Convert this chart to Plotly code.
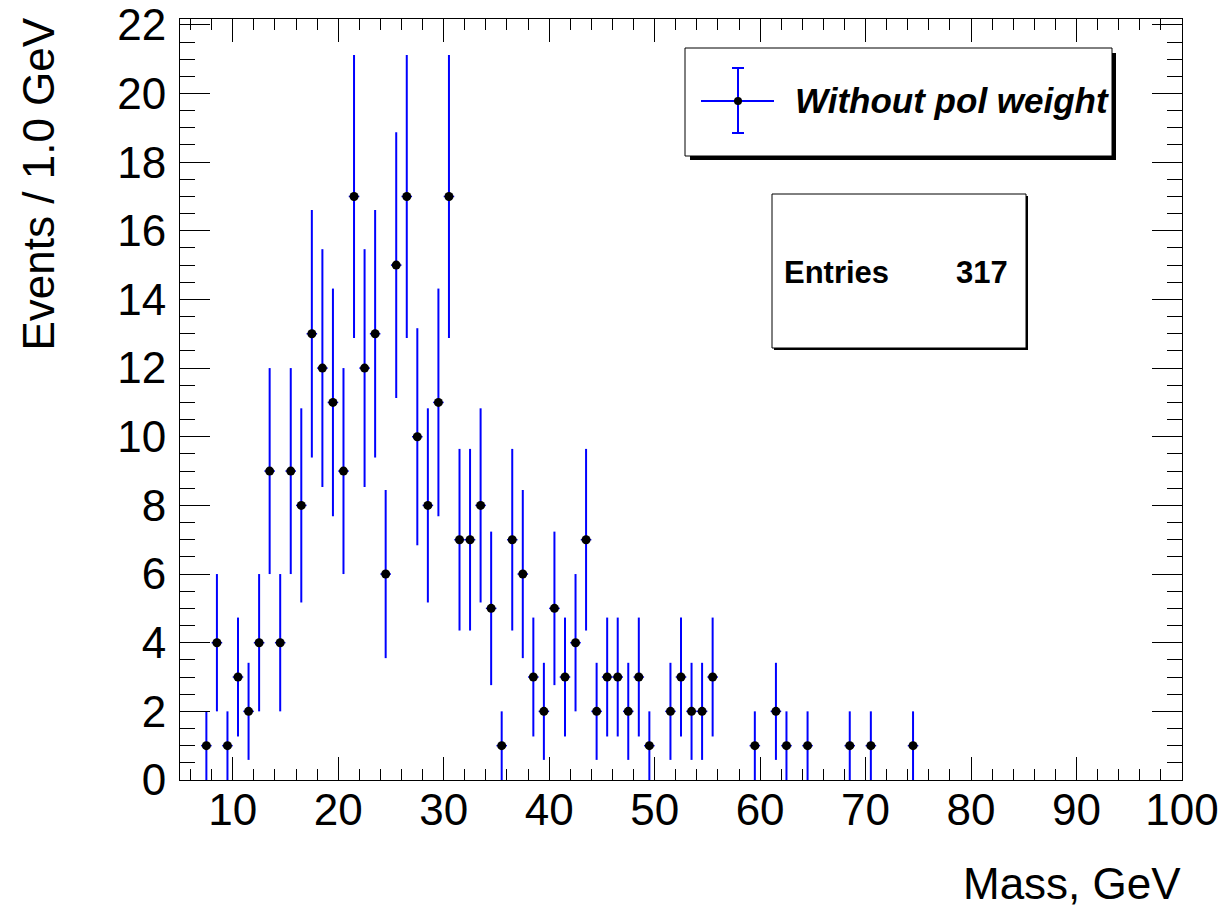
import numpy as np
import plotly.graph_objects as go

# ---- data (bin centres in GeV, counts per 1 GeV bin; empty bins omitted) ----
bin_centers = [7.5, 8.5, 9.5, 10.5, 11.5, 12.5, 13.5, 14.5, 15.5, 16.5,
               17.5, 18.5, 19.5, 20.5, 21.5, 22.5, 23.5, 24.5, 25.5, 26.5,
               27.5, 28.5, 29.5, 30.5, 31.5, 32.5, 33.5, 34.5, 35.5, 36.5,
               37.5, 38.5, 39.5, 40.5, 41.5, 42.5, 43.5, 44.5, 45.5, 46.5,
               47.5, 48.5, 49.5, 51.5, 52.5, 53.5, 54.5, 55.5, 59.5, 61.5,
               62.5, 64.5, 68.5, 70.5, 74.5]
counts = [1, 4, 1, 3, 2, 4, 9, 4, 9, 8,
          13, 12, 11, 9, 17, 12, 13, 6, 15, 17,
          10, 8, 11, 17, 7, 7, 8, 5, 1, 7,
          6, 3, 2, 5, 3, 4, 7, 2, 3, 3,
          2, 3, 1, 2, 3, 2, 2, 3, 1, 2,
          1, 1, 1, 1, 1]
bin_half_width = 0.5
entries = 317
legend_label = "Without pol weight"
x_title = "Mass, GeV"
y_title = "Events / 1.0 GeV"

errors = np.sqrt(np.array(counts, dtype=float))

W, H = 1226, 908
L, R, T, B = 180, 44, 19, 128
pw, ph = W - L - R, H - T - B


def px(x):
    return (x - L) / pw


def py(y):
    return (H - B - y) / ph


fig = go.Figure()
fig.add_trace(go.Scatter(
    x=bin_centers, y=counts, mode="markers",
    marker=dict(color="black", size=9, symbol="circle"),
    error_y=dict(type="data", array=errors, color="#0000ff", thickness=2, width=0),
    error_x=dict(type="constant", value=bin_half_width, color="#0000ff", thickness=1.5, width=0),
    showlegend=False, cliponaxis=True,
))

font = "Liberation Sans, Arial, Helvetica, sans-serif"

axis_common = dict(
    showline=True, linecolor="black", linewidth=1, mirror="allticks",
    ticks="inside", tickcolor="black", tickwidth=1,
    showgrid=False, zeroline=False, automargin=False,
    tickfont=dict(family=font, size=44, color="black"),
)

fig.update_xaxes(range=[5, 100], tick0=0, dtick=10, ticklen=23,
                 minor=dict(dtick=2, tick0=0, ticklen=11, ticks="inside",
                            tickcolor="black", showgrid=False),
                 ticklabelstandoff=-9, **axis_common)
fig.update_yaxes(range=[0, 22.17], tick0=0, dtick=2, ticklen=30,
                 minor=dict(dtick=0.5, tick0=0, ticklen=15, ticks="inside",
                            tickcolor="black", showgrid=False),
                 ticklabelstandoff=4, **axis_common)

shapes = []
# legend box with shadow
shapes.append(dict(type="rect", xref="paper", yref="paper",
                   x0=px(690), x1=px(1116), y0=py(160), y1=py(53),
                   fillcolor="black", line=dict(width=0), layer="above"))
shapes.append(dict(type="rect", xref="paper", yref="paper",
                   x0=px(685), x1=px(1112), y0=py(156), y1=py(48),
                   fillcolor="white", line=dict(color="black", width=1), layer="above"))
# legend symbol
shapes.append(dict(type="line", xref="paper", yref="paper",
                   x0=px(701), x1=px(774), y0=py(101), y1=py(101),
                   line=dict(color="#0000ff", width=2), layer="above"))
shapes.append(dict(type="line", xref="paper", yref="paper",
                   x0=px(738), x1=px(738), y0=py(68), y1=py(133),
                   line=dict(color="#0000ff", width=2), layer="above"))
for yy in (68, 133):
    shapes.append(dict(type="line", xref="paper", yref="paper",
                       x0=px(732), x1=px(744), y0=py(yy), y1=py(yy),
                       line=dict(color="#0000ff", width=2), layer="above"))
shapes.append(dict(type="circle", xref="paper", yref="paper",
                   x0=px(734), x1=px(742), y0=py(105), y1=py(97),
                   fillcolor="black", line=dict(color="black", width=0), layer="above"))
# stats box with shadow
shapes.append(dict(type="rect", xref="paper", yref="paper",
                   x0=px(774), x1=px(1028), y0=py(350), y1=py(196),
                   fillcolor="black", line=dict(width=0), layer="above"))
shapes.append(dict(type="rect", xref="paper", yref="paper",
                   x0=px(772), x1=px(1026), y0=py(348), y1=py(194),
                   fillcolor="white", line=dict(color="black", width=1), layer="above"))

annotations = [
    dict(text="<b><i>" + legend_label + "</i></b>", xref="paper", yref="paper",
         x=px(793), y=py(100), xanchor="left", yanchor="middle", showarrow=False,
         font=dict(family=font, size=35, color="black")),
    dict(text="<b>Entries</b>", xref="paper", yref="paper",
         x=px(782), y=py(272), xanchor="left", yanchor="middle", showarrow=False,
         font=dict(family=font, size=31, color="black")),
    dict(text="<b>%d</b>" % entries, xref="paper", yref="paper",
         x=px(1010), y=py(272), xanchor="right", yanchor="middle", showarrow=False,
         font=dict(family=font, size=31, color="black")),
    dict(text=x_title, xref="paper", yref="paper",
         x=px(1183), y=py(883), xanchor="right", yanchor="middle", showarrow=False,
         font=dict(family=font, size=44, color="black")),
    dict(text=y_title, xref="paper", yref="paper", textangle=-90,
         x=px(38), y=py(16), xanchor="center", yanchor="top", showarrow=False,
         font=dict(family=font, size=44, color="black")),
]

fig.update_layout(
    width=W, height=H,
    margin=dict(l=L, r=R, t=T, b=B, pad=0),
    paper_bgcolor="white", plot_bgcolor="white",
    shapes=shapes, annotations=annotations,
    showlegend=False,
)

fig.write_html("out.html")
